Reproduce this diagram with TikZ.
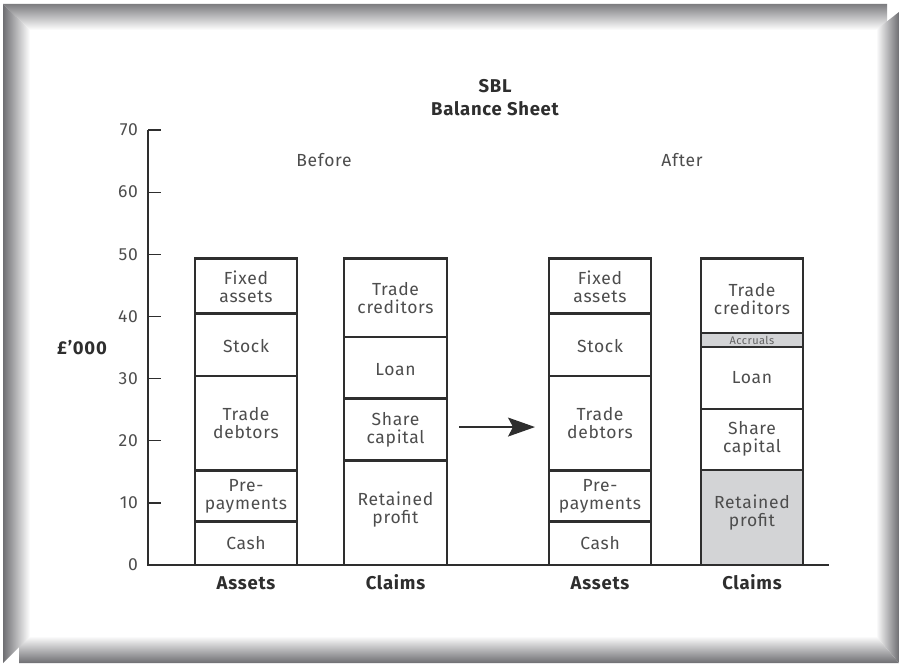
\documentclass[tikz,border=0pt]{standalone}
\usepackage{fontspec}
\setmainfont{Fira Sans}[LetterSpace=4]
\usetikzlibrary{arrows.meta}
\definecolor{ink}{HTML}{2E2E2E}
\definecolor{shadegray}{HTML}{D3D4D6}
\definecolor{rim}{HTML}{6E6E72}
\tikzset{
  seg/.style={draw=ink,line width=2.4pt},
  lbl/.style={text=ink!85,align=center,inner sep=0pt,font=\fontsize{17.5}{18}\selectfont},
  hdr/.style={text=ink,inner sep=0pt,font=\fontsize{18.5}{19}\selectfont\bfseries},
  axisline/.style={draw=ink,line width=1.3pt}
}

\begin{document}
\begin{tikzpicture}[x=1pt,y=1pt]
\useasboundingbox (0,0) rectangle (899,665);
\fill[white] (0,0) rectangle (899,665);
\shade[top color=white,bottom color=rim] (19,2) -- (899,2) -- (876,29) -- (19,29) -- cycle;
\shade[top color=rim!90,bottom color=white] (3,661) -- (887,661) -- (887,635) -- (30,635) -- cycle;
\shade[left color=rim,right color=white] (3,661) -- (30,635) -- (30,29) -- (3,2) -- cycle;
\shade[left color=white,right color=rim] (876,635) -- (899,653) -- (899,2) -- (876,29) -- cycle;

\begin{scope}[shift={(148,100)},y=6.214pt]
\node[hdr,anchor=base] (sbl) at (347,75.96) {SBL};
\node[hdr,anchor=base] (sheet) at (347,72.26) {Balance Sheet};
\node[lbl,anchor=base] (before) at (176,64.05) {Before};
\node[lbl,anchor=base] (after) at (534,64.05) {After};
\node[hdr] (unit) at (-66,35) {£'000};

\draw[axisline] (0,70) -- (0,0) -- (681,0);
\foreach \v in {0,10,...,70} {
  \draw[axisline] (0,\v) -- (13,\v);
  \node[lbl,anchor=east] (tick\v) at (-10,\v) {\v};
}

\draw[seg] (47,0) rectangle (149,7);
\draw[seg] (47,7) rectangle (149,15.2);
\draw[seg] (47,15.2) rectangle (149,30.4);
\draw[seg] (47,30.4) rectangle (149,40.5);
\draw[seg] (47,40.5) rectangle (149,49.3);
\node[lbl] (cashB) at (98,3.5) {Cash};
\node[lbl] (prepayB) at (98,11.1) {Pre-\\payments};
\node[lbl] (debtorsB) at (98,22.9) {Trade\\debtors};
\node[lbl] (stockB) at (98,35.3) {Stock};
\node[lbl] (fixedB) at (98,44.8) {Fixed\\assets};

\draw[seg] (196,0) rectangle (299,16.8);
\draw[seg] (196,16.8) rectangle (299,26.8);
\draw[seg] (196,26.8) rectangle (299,36.7);
\draw[seg] (196,36.7) rectangle (299,49.3);
\node[lbl] (profitB) at (247.5,9) {Retained\\profit};
\node[lbl] (shareB) at (247.5,21.7) {Share\\capital};
\node[lbl] (loanB) at (247.5,31.5) {Loan};
\node[lbl] (creditorsB) at (247.5,43) {Trade\\creditors};

\coordinate (from) at (311,22.2);
\coordinate (to) at (387,22.2);
\draw[ink,line width=1.2pt,-{Stealth[length=27pt,width=19pt,inset=5pt]}] (from) -- (to);

\draw[seg] (401,0) rectangle (503,7);
\draw[seg] (401,7) rectangle (503,15.2);
\draw[seg] (401,15.2) rectangle (503,30.4);
\draw[seg] (401,30.4) rectangle (503,40.5);
\draw[seg] (401,40.5) rectangle (503,49.3);
\node[lbl] (cashA) at (452,3.5) {Cash};
\node[lbl] (prepayA) at (452,11.1) {Pre-\\payments};
\node[lbl] (debtorsA) at (452,22.9) {Trade\\debtors};
\node[lbl] (stockA) at (452,35.3) {Stock};
\node[lbl] (fixedA) at (452,44.8) {Fixed\\assets};

\draw[seg,fill=shadegray] (553,0) rectangle (655,15.3);
\draw[seg] (553,15.3) rectangle (655,25.1);
\draw[seg] (553,25.1) rectangle (655,35.1);
\draw[seg,fill=shadegray] (553,35.1) rectangle (655,37.3);
\draw[seg] (553,37.3) rectangle (655,49.3);
\node[lbl] (profitA) at (604,8.4) {Retained\\profit};
\node[lbl] (shareA) at (604,20.3) {Share\\capital};
\node[lbl] (loanA) at (604,30.1) {Loan};
\node[lbl,font=\fontsize{11}{12}\selectfont,text=ink!75] (accrualsA) at (604,36.2) {Accruals};
\node[lbl] (creditorsA) at (604,42.8) {Trade\\creditors};

\node[hdr,anchor=base] (assetsB) at (98,-4.02) {Assets};
\node[hdr,anchor=base] (claimsB) at (247.5,-4.02) {Claims};
\node[hdr,anchor=base] (assetsA) at (452,-4.02) {Assets};
\node[hdr,anchor=base] (claimsA) at (604,-4.02) {Claims};
\end{scope}
\end{tikzpicture}
\end{document}
